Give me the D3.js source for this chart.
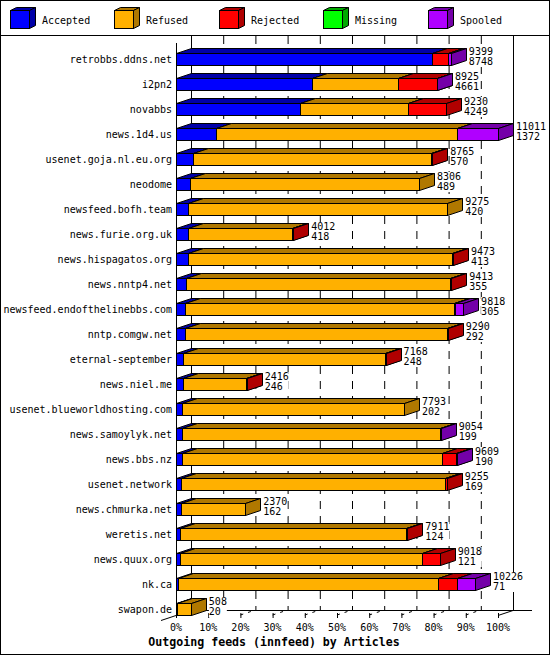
<!DOCTYPE html>
<html><head><meta charset="utf-8">
<script src="https://cdn.jsdelivr.net/npm/d3@7"></script>
<style>body{margin:0;background:#fff}svg{display:block}text{font-family:"DejaVu Sans Mono",monospace}</style>
</head><body><svg id="c" width="550" height="655"></svg>
<script>
const categories = ["retrobbs.ddns.net","i2pn2","novabbs","news.1d4.us","usenet.goja.nl.eu.org","neodome","newsfeed.bofh.team","news.furie.org.uk","news.hispagatos.org","news.nntp4.net","newsfeed.endofthelinebbs.com","nntp.comgw.net","eternal-september","news.niel.me","usenet.blueworldhosting.com","news.samoylyk.net","news.bbs.nz","usenet.network","news.chmurka.net","weretis.net","news.quux.org","nk.ca","swapon.de"];
const totals   = [9399,8925,9230,11011,8765,8306,9275,4012,9473,9413,9818,9290,7168,2416,7793,9054,9609,9255,2370,7911,9018,10226,508];
const accepted = [8748,4661,4249,1372,570,489,420,418,413,355,305,292,248,246,202,199,190,169,162,124,121,71,20];
const refused  = [0,2941,3700,8230,8155,7817,8855,3534,9010,9018,9190,8983,6905,2160,7591,8825,8899,9046,2208,7737,8303,8880,488];
const rejected = [560,1313,1281,0,40,0,0,60,50,40,50,15,15,10,0,0,500,40,0,50,594,650,0];
const missing  = [0,0,0,0,0,0,0,0,0,0,0,0,0,0,0,0,0,0,0,0,0,0,0];
const spooled  = [91,10,0,1409,0,0,0,0,0,0,273,0,0,0,0,30,20,0,0,0,0,625,0];
const seriesNames = ["Accepted","Refused","Rejected","Missing","Spooled"];
const tickLabels = ["0%","10%","20%","30%","40%","50%","60%","70%","80%","90%","100%"];
const title = "Outgoing feeds (innfeed) by Articles";

const front = ["#0000ff","#ffb000","#ff0000","#00ff00","#b000ff"];
const dark  = ["#0000a8","#b07800","#b00000","#00a800","#7400a8"];
const series = [accepted,refused,rejected,missing,spooled];

const svg = d3.select("#c");
const DX = 15, DY = 5, BH = 12;
const x = d3.scaleLinear().domain([0, d3.max(totals)]).range([176, 498]);
const xp = d3.scaleLinear().domain([0, 100]).range([176, 498]);
const y = d3.scalePoint().domain(categories).range([53, 53 + 25*(categories.length-1)]);

// frame
svg.append("rect").attr("x",0.5).attr("y",0.5).attr("width",549).attr("height",654).attr("fill","#fff").attr("stroke","#000");
svg.append("line").attr("x1",0).attr("x2",550).attr("y1",35.5).attr("y2",35.5).attr("stroke","#000");

// legend
const legX = [10,114,219,323,428];
seriesNames.forEach((n,i)=>{
  const g = svg.append("g");
  const lx = legX[i]+0.5, ly = 10.5, w = 19, h = 18, d = 6, dd = 3;
  g.append("polygon").attr("points",[[lx,ly],[lx+d,ly-dd],[lx+w+d,ly-dd],[lx+w,ly]].join(" ")).attr("fill",dark[i]).attr("stroke","#000");
  g.append("polygon").attr("points",[[lx+w,ly],[lx+w+d,ly-dd],[lx+w+d,ly+h-dd],[lx+w,ly+h]].join(" ")).attr("fill",dark[i]).attr("stroke","#000");
  g.append("rect").attr("x",lx).attr("y",ly).attr("width",w).attr("height",h).attr("fill",front[i]).attr("stroke","#000");
  g.append("text").attr("x",legX[i]+32).attr("y",24).attr("font-size",10).text(n);
});

// grid (back wall)
const floorBack = 610, floorFront = 615;
xp.ticks(10).forEach(t=>{
  if (t===0) return;
  if (t===100) {
    svg.append("line").attr("x1",xp(t)+DX+0.5).attr("x2",xp(t)+DX+0.5).attr("y1",36).attr("y2",floorBack).attr("stroke","#000");
    return;
  }
  svg.append("line").attr("x1",xp(t)+DX+0.5).attr("x2",xp(t)+DX+0.5).attr("y1",36).attr("y2",floorBack)
    .attr("stroke","#000").attr("stroke-dasharray","8,7");
});
svg.append("line").attr("x1",xp(0)+DX+0.5).attr("x2",xp(0)+DX+0.5).attr("y1",36).attr("y2",floorBack).attr("stroke","#000");
svg.append("line").attr("x1",xp(0)+0.5).attr("x2",xp(0)+0.5).attr("y1",43).attr("y2",floorFront).attr("stroke","#000");
// floor
svg.append("line").attr("x1",xp(0)+DX).attr("x2",532).attr("y1",floorBack+0.5).attr("y2",floorBack+0.5).attr("stroke","#000");
svg.append("line").attr("x1",161).attr("y1",620.5).attr("x2",xp(0)+DX).attr("y2",floorBack+0.5).attr("stroke","#000");
svg.append("line").attr("x1",xp(100)).attr("y1",floorFront+0.5).attr("x2",xp(100)+DX).attr("y2",floorBack+0.5).attr("stroke","#000");
xp.ticks(10).forEach(t=>{
  if (t>0 && t<100) svg.append("line").attr("x1",xp(t)).attr("y1",floorFront).attr("x2",xp(t)+DX).attr("y2",floorBack)
     .attr("stroke","#000").attr("stroke-dasharray","3,5");
  svg.append("line").attr("x1",xp(t)+0.5).attr("x2",xp(t)+0.5).attr("y1",floorFront-2).attr("y2",floorFront+3).attr("stroke","#000");
});
tickLabels.forEach((l,i)=>{
  svg.append("text").attr("x",xp(i*10)).attr("y",631).attr("font-size",10).attr("text-anchor","middle").text(l);
});

// bars
categories.forEach((c,ri)=>{
  const T = y(c)+0.5;
  let cum = 0;
  series.forEach((s,si)=>{
    const v = s[ri];
    if (!v) return;
    const x0 = Math.round(x(cum))+0.5, x1 = Math.round(x(cum+v))+0.5;
    cum += v;
    const g = svg.append("g");
    g.append("polygon").attr("points",[[x0,T],[x0+DX,T-DY],[x1+DX,T-DY],[x1,T]].join(" ")).attr("fill",dark[si]).attr("stroke","#000");
    g.append("polygon").attr("points",[[x1,T],[x1+DX,T-DY],[x1+DX,T+BH-DY],[x1,T+BH]].join(" ")).attr("fill",dark[si]).attr("stroke","#000");
    g.append("rect").attr("x",x0).attr("y",T).attr("width",Math.max(0,x1-x0)).attr("height",BH).attr("fill",front[si]).attr("stroke","#000");
  });
  const ex = x(totals[ri]) + DX + 3;
  const wlab = 6*Math.max(String(totals[ri]).length, String(accepted[ri]).length);
  svg.append("rect").attr("x",ex).attr("y",y(c)-6).attr("width",wlab).attr("height",20).attr("fill","#fff");
  svg.append("text").attr("x",ex).attr("y",y(c)+2).attr("font-size",10).text(totals[ri]);
  svg.append("text").attr("x",ex).attr("y",y(c)+12).attr("font-size",10).text(accepted[ri]);
  svg.append("text").attr("x",172).attr("y",y(c)+10).attr("font-size",10).attr("text-anchor","end").text(c);
});

svg.append("text").attr("x",274).attr("y",646).attr("font-size",11.6).attr("font-weight","bold").attr("text-anchor","middle").text(title);
</script></body></html>
